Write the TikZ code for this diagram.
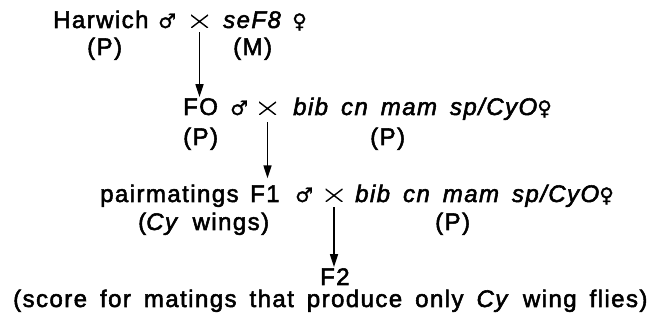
\documentclass[tikz,border=0pt]{standalone}
\usepackage{fontspec}
\setmainfont{Liberation Sans}[LetterSpace=6,WordSpace=1.6,FakeBold=2.2]
\newfontfamily\symfont{DejaVu Sans}[FakeBold=1.5]
\usetikzlibrary{arrows.meta}

\newcommand{\txtsize}{\fontsize{24}{28}\selectfont}
\newcommand{\male}{{\symfont\fontsize{20}{22}\selectfont ♂}}
\newcommand{\female}{{\symfont\fontsize{20}{22}\selectfont ♀}}

\begin{document}
\begin{tikzpicture}[x=1pt,y=-1pt,
  txt/.style={anchor=base west,inner sep=0pt,font=\txtsize},
  % multiplication sign drawn as two thin diagonals
  cross/.style={inner sep=0pt,minimum width=17pt,minimum height=13pt,
    path picture={\draw[line width=1.4pt]
      (path picture bounding box.north west) -- (path picture bounding box.south east)
      (path picture bounding box.south west) -- (path picture bounding box.north east);}},
  arr/.style={-{Triangle[length=13pt,width=8pt]},line width=1.6pt}]
  \useasboundingbox (0,0) rectangle (667,320);

  % parental cross
  \node[txt] (harwich) at (53,28) {Harwich};
  \node[txt] (male1) at (158,28) {\male};
  \node[cross] (x1) at (199.5,21.5) {};
  \node[txt] (sef) at (223,28) {\itshape seF8};
  \node[txt] (fem1) at (292,28) {\female};
  \node[txt] (p1) at (87,55) {(P)};
  \node[txt] (m1) at (233,55) {(M)};

  % F0 cross
  \node[txt] (fo) at (183,115) {FO};
  \node[txt] (male2) at (230,115) {\male};
  \node[cross] (x2) at (267.5,108.5) {};
  \node[txt] (bal2) at (293,115) {\itshape bib cn mam sp/CyO\female};
  \node[txt] (p2a) at (183,145) {(P)};
  \node[txt] (p2b) at (370,145) {(P)};

  % F1 pair matings
  \node[txt] (pair) at (100,202) {pairmatings};
  \node[txt] (fone) at (250,202) {F1};
  \node[txt] (male3) at (295,202) {\male};
  \node[cross] (x3) at (334,195.5) {};
  \node[txt] (bal3) at (355,202) {\itshape bib cn mam sp/CyO\female};
  \node[txt] (cy) at (138,230) {(\textit{Cy} wings)};
  \node[txt] (p3) at (435,230) {(P)};

  % F2 scoring
  \node[txt] (ftwo) at (320,285) {F2};
  \node[txt] (score) at (13,307) {(score for matings that produce only \textit{Cy} wing flies)};

  % generation arrows
  \draw[arr] ([yshift=-4pt]x1.south) -- ([yshift=1pt]x1.south |- fo.north);
  \draw[arr] ([yshift=-7pt]x2.south) -- ([yshift=7pt]x2.south |- fone.north);
  \draw[arr] ([yshift=-5pt]x3.south) -- ([yshift=1pt]x3.south |- ftwo.north);
\end{tikzpicture}
\end{document}
